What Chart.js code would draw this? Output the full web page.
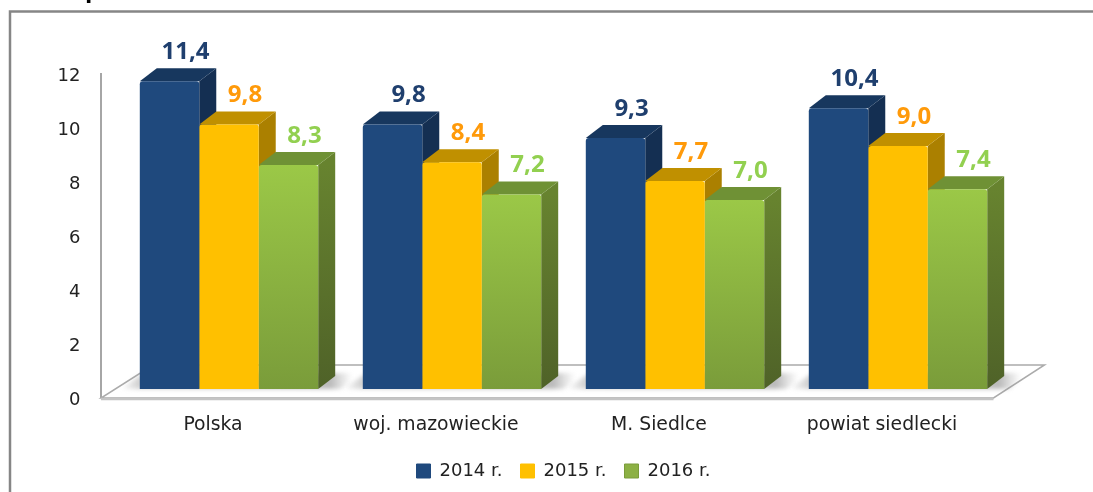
<!DOCTYPE html>
<html><head><meta charset="utf-8">
<style>html,body{margin:0;padding:0;background:#fff}#w{width:1093px;height:492px}</style>
<script src="https://cdn.jsdelivr.net/npm/chart.js@4"></script>
</head><body><div id="w"><canvas id="c" width="1093" height="492"></canvas></div>
<script>
const categories = ["Polska", "woj. mazowieckie", "M. Siedlce", "powiat siedlecki"];
const seriesNames = ["2014 r.", "2015 r.", "2016 r."];
const values2014 = [11.4, 9.8, 9.3, 10.4];
const values2015 = [9.8, 8.4, 7.7, 9.0];
const values2016 = [8.3, 7.2, 7.0, 7.4];
const tickValues = [0, 2, 4, 6, 8, 10, 12];
const frontTop = ["#1F497D", "#FFC000", "#9BC847"];
const frontBottom = ["#1F497D", "#FFC000", "#7A9C3A"];
const legendFill = ["#1F497D", "#FFC000", "#8CB044"];
const topFace = ["#17375E", "#C09000", "#6F9135"];
const sideTop = ["#142F52", "#AB8000", "#67832F"];
const sideBottom = ["#142F52", "#AB8000", "#4F6228"];
const labelColors = ["#1F3F6E", "#FF9A0A", "#92D050"];
const FONT = '"Open Sans", sans-serif';
const TEXTFONT = '"DejaVu Sans", sans-serif';
const DX = 17, DY = 13;

const decor = {
  id: "decor",
  beforeDraw(chart) {
    const c = chart.ctx;
    c.save();
    c.fillStyle = "#fff"; c.fillRect(0, 0, 1093, 492);
    c.strokeStyle = "#868686"; c.lineWidth = 2.5;
    c.beginPath(); c.moveTo(10, 492); c.lineTo(10, 11.5); c.lineTo(1093, 11.5); c.stroke();
    c.fillStyle = "#000"; c.font = "bold 24px " + FONT; c.textAlign = "left"; c.textBaseline = "alphabetic";
    c.fillText("p", 85, -3);
    c.restore();
  },
  beforeDatasetsDraw(chart) {
    const c = chart.ctx, sy = chart.scales.y, base = sy.getPixelForValue(0);
    const backY = base - 24, frontY = base + 9;
    const left = chart.chartArea.left - 16.5, right = chart.chartArea.right - 16;
    c.save();
    // back wall axis line
    c.strokeStyle = "#A6A6A6"; c.lineWidth = 2;
    c.beginPath(); c.moveTo(left, sy.getPixelForValue(12) + 8); c.lineTo(left, frontY); c.stroke();
    // floor
    c.beginPath(); c.moveTo(left, frontY); c.lineTo(right, frontY); c.lineTo(right + 51, backY); c.lineTo(left + 52, backY); c.closePath();
    c.fillStyle = "#fff"; c.fill();
    c.strokeStyle = "#ABABAB"; c.lineWidth = 1.5; c.stroke();
    c.strokeStyle = "#C4C4C4"; c.lineWidth = 2.5;
    c.beginPath(); c.moveTo(left, frontY + 1); c.lineTo(right, frontY + 1); c.stroke();
    // shadows on the floor
    const metas = [0, 1, 2].map(i => chart.getDatasetMeta(i).data);
    c.save();
    c.filter = "blur(2px)";
    categories.forEach((_, k) => {
      const x0 = metas[0][k].x - metas[0][k].width / 2, x1 = metas[2][k].x + metas[2][k].width / 2;
      const a = x0 - 20, b = x1 + 34;
      const g = c.createLinearGradient(a, 0, b, 0);
      const t = v => (v - a) / (b - a);
      g.addColorStop(0, "rgba(160,160,160,0)");
      g.addColorStop(t(x0), "rgba(160,160,160,.5)");
      g.addColorStop(t(x1 + 12), "rgba(140,140,140,.6)");
      g.addColorStop(1, "rgba(160,160,160,0)");
      c.fillStyle = g;
      c.beginPath(); c.moveTo(a, base); c.lineTo(b - 12, base); c.lineTo(b + 8, base - 16); c.lineTo(a + 24, base - 16); c.closePath(); c.fill();
    });
    c.restore();
    // depth faces
    categories.forEach((_, k) => {
      [0, 1, 2].forEach(i => {
        const el = metas[i][k], l = el.x - el.width / 2, r = el.x + el.width / 2, t = el.y, bt = el.base;
        const sg = c.createLinearGradient(0, t, 0, bt);
        sg.addColorStop(0, sideTop[i]); sg.addColorStop(1, sideBottom[i]);
        c.fillStyle = sg;
        c.beginPath(); c.moveTo(r, t); c.lineTo(r + DX, t - DY); c.lineTo(r + DX, bt - DY); c.lineTo(r, bt); c.closePath(); c.fill();
        c.fillStyle = topFace[i];
        c.beginPath(); c.moveTo(l, t); c.lineTo(l + DX, t - DY); c.lineTo(r + DX, t - DY); c.lineTo(r, t); c.closePath(); c.fill();
      });
    });
    c.restore();
  },
  afterDatasetsDraw(chart) {
    const c = chart.ctx;
    c.save();
    c.font = "bold 24px " + FONT; c.textAlign = "center"; c.textBaseline = "middle";
    [0, 1, 2].forEach(i => {
      chart.getDatasetMeta(i).data.forEach((el, k) => {
        c.fillStyle = labelColors[i];
        const v = chart.data.datasets[i].data[k];
        c.fillText(v.toFixed(1).replace(".", ","), el.x + 16, el.y - 29);
      });
    });
    c.restore();
  }
};

const makeDataset = (name, data, i) => ({
  label: name, data,
  backgroundColor(ctx) {
    const area = ctx.chart.chartArea;
    if (!area) return frontTop[i];
    const sy = ctx.chart.scales.y;
    const v = ctx.raw === undefined ? 12 : ctx.raw;
    const g = ctx.chart.ctx.createLinearGradient(0, sy.getPixelForValue(v), 0, sy.getPixelForValue(0));
    g.addColorStop(0, frontTop[i]); g.addColorStop(1, frontBottom[i]);
    return g;
  },
  borderRadius: { topLeft: 3, topRight: 3 },
  borderSkipped: "bottom",
  categoryPercentage: 0.8, barPercentage: 1
});

new Chart(document.getElementById("c"), {
  type: "bar",
  data: {
    labels: categories,
    datasets: [makeDataset(seriesNames[0], values2014, 0), makeDataset(seriesNames[1], values2015, 1), makeDataset(seriesNames[2], values2016, 2)]
  },
  plugins: [decor],
  options: {
    responsive: false, animation: false, devicePixelRatio: 1,
    layout: { padding: { left: 0, right: 83.5, top: 65, bottom: 2 } },
    plugins: {
      tooltip: { enabled: false }, title: { display: false },
      legend: {
        position: "bottom", fullSize: false,
        labels: {
          boxWidth: 14, boxHeight: 14, padding: 18, color: "#222",
          font: { family: TEXTFONT, size: 18 },
          generateLabels: () => seriesNames.map((n, i) => ({ text: n, fillStyle: legendFill[i], strokeStyle: frontBottom[i], lineWidth: 1, datasetIndex: i, fontColor: "#222" }))
        }
      }
    },
    scales: {
      x: {
        grid: { display: false, drawTicks: false }, border: { display: false },
        ticks: { color: "#222", font: { family: TEXTFONT, size: 18.8 }, padding: 25, labelOffset: -16, maxRotation: 0, autoSkip: false },
        afterFit(a) { a.height = 55; }
      },
      y: {
        min: 0, max: 12,
        afterBuildTicks(a) { a.ticks = tickValues.map(v => ({ value: v })); },
        grid: { display: false, drawTicks: false }, border: { display: false },
        ticks: { color: "#222", font: { family: TEXTFONT, size: 18 }, padding: 37, labelOffset: 11 },
        afterFit(a) { a.width = 117.5; }
      }
    }
  }
});
</script></body></html>
